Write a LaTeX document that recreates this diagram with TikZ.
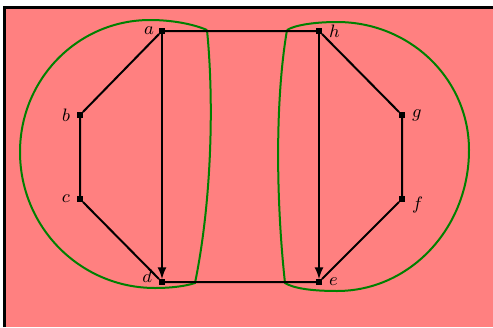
\documentclass[tikz,border=0pt]{standalone}
\usepackage{amsmath}
\usetikzlibrary{arrows,positioning}
\definecolor{bgpink}{RGB}{255,128,128}
\definecolor{rimgreen}{RGB}{0,128,0}
\tikzset{vtx/.style={draw,fill,rectangle,inner sep=0pt,minimum size=2.6pt}}

\begin{document}
\begin{tikzpicture}[x=0.5pt, y=-0.5pt, >=latex, font=\small, label distance=0pt]
\useasboundingbox (0,0) rectangle (493,327);
\fill[bgpink] (4,7) rectangle (493,327);
\draw[line width=1.5pt] (4,327) -- (4,7) -- (493,7);
% the two green blobs
\draw[rimgreen, line width=1pt] (207,30) .. controls (193,24) and (172,20) .. (150,20)
  .. controls (78,20) and (20,79) .. (20,152)
  .. controls (20,227) and (80,288) .. (155,288)
  .. controls (172,288) and (186,286) .. (195,283)
  .. controls (212,200) and (214,100) .. (207,30);
\draw[rimgreen, line width=1pt] (287,30) .. controls (295,25) and (315,22) .. (337,22)
  .. controls (410,22) and (469,79) .. (469,150)
  .. controls (469,228) and (410,291) .. (337,291)
  .. controls (310,291) and (293,288) .. (285,283)
  .. controls (276,200) and (275,100) .. (287,30);
% vertices
\node[vtx, label={[xshift=1pt]left:$a$}] (a) at (162,31) {};
\node[vtx, label=left:$b$] (b) at (80,115) {};
\node[vtx, label=left:$c$] (c) at (80,199) {};
\node[vtx, label={[yshift=3pt]left:$d$}] (d) at (162,282) {};
\node[vtx, label=right:$e$] (e) at (319,282) {};
\node[vtx, label={[yshift=-3pt]right:$f$}] (f) at (402,199) {};
\node[vtx, label=right:$g$] (g) at (402,115) {};
\node[vtx, label=right:$h$] (h) at (319,31) {};
\draw[line width=1pt] (a) -- (b) -- (c) -- (d)
  (a) -- (h) (d) -- (e)
  (h) -- (g) -- (f) -- (e);
\draw[line width=1pt, ->] (a) -- (d);
\draw[line width=1pt, ->] (h) -- (e);
\end{tikzpicture}
\end{document}
